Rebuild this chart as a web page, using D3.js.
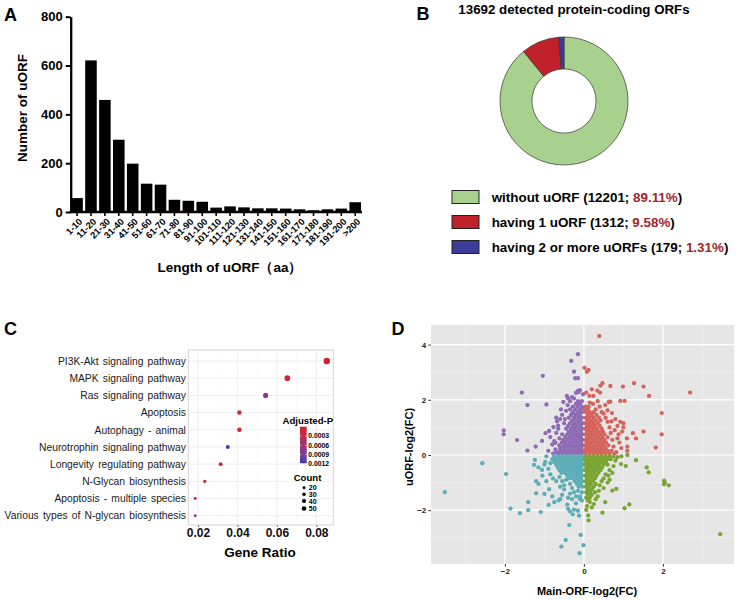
<!DOCTYPE html>
<html><head><meta charset="utf-8">
<script src="https://cdn.jsdelivr.net/npm/d3@7"></script>
<style>
body{margin:0;background:#fff;}
svg{display:block;font-family:"Liberation Sans",Arial,Helvetica,sans-serif;}
</style></head><body>
<svg id="fig" width="738" height="600"></svg>
<script>
// ---------- Panel A data ----------
const lengthBins = ["1-10","11-20","21-30","31-40","41-50","51-60","61-70","71-80","81-90","91-100","101-110","111-120","121-130","131-140","141-150","151-160","161-170","171-180","181-190","191-200",">200"];
const uorfCounts = [57,621,459,296,198,116,112,50,46,42,18,23,19,15,15,14,11,7,11,14,40];
const yTicksA = [0,200,400,600,800];

// ---------- Panel B data ----------
const orfGroups = ["without uORF","having 1 uORF","having 2 or more uORFs"];
const orfCounts = [12201,1312,179];
const orfPercents = ["89.11%","9.58%","1.31%"];
const orfColors = ["#a9d18e","#c0202a","#3a3d9a"];

// ---------- Panel C data ----------
const pathways = ["PI3K-Akt signaling pathway","MAPK signaling pathway","Ras signaling pathway","Apoptosis","Autophagy - animal","Neurotrophin signaling pathway","Longevity regulating pathway","N-Glycan biosynthesis","Apoptosis - multiple species","Various types of N-glycan biosynthesis"];
const geneRatio = [0.0853,0.0653,0.0543,0.0410,0.0410,0.0351,0.0315,0.0234,0.0186,0.0186];
const adjP = [0.00002,0.00008,0.00082,0.00008,0.00010,0.00118,0.00012,0.00010,0.00025,0.00072];
const geneCount = [52,40,33,25,25,21,19,14,11,11];
const ratioTicks = [0.02,0.04,0.06,0.08];
const pTicks = [0.0003,0.0006,0.0009,0.0012];
const countTicks = [20,30,40,50];

// ---------- Panel D data (Main-ORF log2FC, uORF log2FC) ----------
const purpleCoreRows = [
[0.05,[-0.05,-0.15,-0.25,-0.35,-0.45,-0.55,-0.65]],
[0.15,[-0.03,-0.1,-0.2,-0.3,-0.4,-0.5,-0.6]],
[0.25,[-0.06,-0.15,-0.25,-0.35,-0.45,-0.55]],
[0.35,[-0.03,-0.12,-0.2,-0.3,-0.4,-0.5,-0.62]],
[0.45,[-0.07,-0.16,-0.26,-0.36,-0.46,-0.56]],
[0.55,[-0.04,-0.12,-0.22,-0.31,-0.42,-0.52]],
[0.65,[-0.08,-0.17,-0.27,-0.37,-0.47]],
[0.75,[-0.04,-0.13,-0.22,-0.32,-0.42,-0.55]],
[0.85,[-0.08,-0.18,-0.28,-0.38]],
[0.95,[-0.04,-0.13,-0.23,-0.33,-0.45]],
[1.05,[-0.08,-0.18,-0.28,-0.4]],
[1.15,[-0.04,-0.14,-0.24,-0.35]],
[1.25,[-0.09,-0.19,-0.3]],
[1.35,[-0.05,-0.14,-0.25,-0.38]],
[1.45,[-0.1,-0.2,-0.32]],
[1.55,[-0.05,-0.15,-0.27]],
[1.65,[-0.1,-0.22,-0.35]],
[1.75,[-0.05,-0.16,-0.28]],
[1.85,[-0.1,-0.2]],
[1.95,[-0.05,-0.15]]
];
const purpleScatter = [[-0.72,0.2],[-0.75,0.5],[-0.7,0.8],[-0.68,1.22],[-0.7,1.35],[-0.6,1.3],[-0.55,1.45],[-0.5,1.15],[-0.65,1.06],[-0.77,1.01],[-0.85,0.65],[-0.88,0.87],[-0.97,0.79],[-1.06,0.51],[-1.22,0.3],[-1.43,0.16],[-1.69,0.54],[-2.03,0.89],[-2.03,0.75],[-0.72,0.44],[-0.62,0.6],[-0.8,0.38],[-0.9,0.15],[-0.78,0.05],[-0.52,1.92],[-0.41,1.81],[-0.45,1.6],[-0.4,2.05],[-0.43,2.14],[-0.95,1.83],[-1.43,1.81],[-1.57,2.26],[-1.04,2.87],[-0.15,2.32],[-0.1,2.35],[-0.13,2.28],[-0.2,2.25],[-0.22,2.78],[-0.15,2.78],[-0.25,3.02],[-0.32,3.41],[-0.15,3.65],[-0.3,2.1],[-0.35,1.95],[-0.25,2.05],[-0.58,1.65],[-0.48,1.3],[-0.65,0.95],[-0.6,0.25],[-0.7,0.1],[-0.3,1.5],[-0.02,1.7],[-0.02,2.2]];

const redCoreRows = [
[0.05,[0.05,0.15,0.25,0.35,0.45,0.55,0.65]],
[0.15,[0.02,0.1,0.2,0.3,0.4,0.5,0.6]],
[0.25,[0.06,0.15,0.25,0.35,0.45,0.55]],
[0.35,[0.03,0.12,0.2,0.3,0.4,0.5,0.62]],
[0.45,[0.07,0.16,0.26,0.36,0.46,0.56]],
[0.55,[0.04,0.12,0.22,0.31,0.42,0.52]],
[0.65,[0.08,0.17,0.27,0.37,0.47,0.6]],
[0.75,[0.04,0.13,0.22,0.32,0.42,0.52]],
[0.85,[0.08,0.18,0.28,0.38,0.48]],
[0.95,[0.04,0.13,0.23,0.33,0.45]],
[1.05,[0.08,0.18,0.28,0.4]],
[1.15,[0.04,0.14,0.24,0.35]],
[1.25,[0.09,0.19,0.3,0.42]],
[1.35,[0.05,0.14,0.25,0.38]],
[1.45,[0.1,0.2,0.32]],
[1.55,[0.05,0.15]],
[1.65,[0.03,0.1]],
[1.75,[0.05,0.12]]
];
const redScatter = [[0.7,0.15],[0.75,0.3],[0.72,0.55],[0.68,0.8],[0.78,0.9],[0.65,1.0],[0.6,1.2],[0.55,1.35],[0.5,1.5],[0.45,1.55],[0.7,1.22],[0.8,1.3],[0.92,1.2],[0.97,0.85],[0.85,0.6],[0.9,0.45],[0.82,0.1],[1.1,0.3],[1.1,0.15],[1.09,0.6],[1.24,0.79],[1.32,0.6],[1.51,0.85],[1.82,0.27],[1.97,0.75],[1.97,1.52],[1.0,1.15],[0.71,1.52],[0.54,1.81],[0.63,1.92],[0.67,1.93],[0.92,1.96],[1.03,1.96],[0.23,1.85],[0.2,2.38],[0.06,2.26],[0.14,2.14],[0.24,2.14],[0.34,2.33],[0.41,2.26],[0.42,2.51],[0.47,2.6],[0.67,2.5],[0.99,2.48],[1.27,2.6],[1.51,2.48],[1.65,2.14],[2.69,2.26],[0.016,3.16],[0.075,3.02],[0.117,3.08],[0.39,4.31],[0.3,1.65],[0.4,1.75],[0.35,1.95],[0.15,1.9],[0.25,1.55],[0.6,1.62],[0.85,1.05],[1.0,1.0],[0.88,0.75],[0.95,0.25],[0.77,0.05]];

const cyanCoreRows = [
[-0.05,[-0.05,-0.15,-0.25,-0.35,-0.45,-0.55,-0.65,-0.75]],
[-0.15,[-0.02,-0.1,-0.2,-0.3,-0.4,-0.5,-0.6,-0.7,-0.8]],
[-0.25,[-0.06,-0.15,-0.25,-0.35,-0.45,-0.55,-0.65,-0.75]],
[-0.35,[-0.03,-0.12,-0.2,-0.3,-0.4,-0.5,-0.6,-0.7]],
[-0.45,[-0.07,-0.16,-0.26,-0.36,-0.46,-0.56,-0.66]],
[-0.55,[-0.04,-0.12,-0.22,-0.31,-0.42,-0.52,-0.62]],
[-0.65,[-0.08,-0.17,-0.27,-0.37,-0.47,-0.57]],
[-0.75,[-0.04,-0.13,-0.22,-0.32,-0.42]],
[-0.85,[-0.08,-0.18,-0.28,-0.38]],
[-0.95,[-0.04,-0.13,-0.23]],
[-1.05,[-0.08,-0.18]],
[-1.15,[-0.04,-0.13]]
];
const cyanScatter = [[-0.85,-0.3],[-0.9,-0.5],[-0.85,-0.7],[-0.78,-0.85],[-0.7,-0.95],[-0.62,-0.8],[-0.55,-0.95],[-0.5,-1.1],[-0.45,-0.9],[-0.35,-1.05],[-0.3,-1.2],[-0.25,-1.35],[-0.15,-1.3],[-0.05,-1.35],[-0.1,-1.5],[-0.35,-1.4],[-0.5,-1.25],[-0.6,-1.15],[-0.95,-0.05],[-1.0,-0.35],[-1.15,-0.45],[-3.52,-1.35],[-2.57,-0.3],[-1.97,-0.69],[-1.86,-1.94],[-1.62,-2.11],[-1.41,-2.0],[-1.41,-1.71],[-1.09,-2.07],[-1.21,-0.95],[-1.15,-1.05],[-1.21,-1.39],[-1.26,-0.36],[-1.24,-0.18],[-1.05,-0.75],[-1.06,-0.54],[-1.0,-1.41],[-0.88,-1.24],[-0.89,-1.81],[-0.75,-1.71],[-0.64,-1.65],[-0.6,-1.6],[-0.37,-2.54],[-0.46,-3.08],[-0.57,-3.32],[-0.11,-3.56],[-0.08,-2.9],[-0.01,-3.27],[-0.4,-1.95],[-0.35,-2.05],[-0.25,-1.98],[-0.15,-2.02],[-0.12,-2.2],[-0.28,-2.15],[-0.42,-1.8],[-0.2,-1.75],[-0.05,-1.65],[-0.55,-1.45],[-0.8,-1.5],[-0.95,-0.95],[-0.98,-0.25],[-0.4,-1.55],[-0.3,-1.6],[-0.2,-1.5],[-0.1,-1.6]];

const greenCoreRows = [
[-0.05,[0.05,0.15,0.25,0.35,0.45,0.55,0.65,0.75]],
[-0.15,[0.02,0.1,0.2,0.3,0.4,0.5,0.6]],
[-0.25,[0.06,0.15,0.25,0.35,0.45,0.55]],
[-0.35,[0.03,0.12,0.2,0.3,0.4,0.5]],
[-0.45,[0.07,0.16,0.26,0.36,0.46]],
[-0.55,[0.04,0.12,0.22,0.31,0.42]],
[-0.65,[0.08,0.17,0.27,0.37]],
[-0.75,[0.04,0.13,0.22,0.32]],
[-0.85,[0.08,0.18,0.28]],
[-0.95,[0.04,0.13,0.23]],
[-1.05,[0.08,0.18,0.3]],
[-1.15,[0.05,0.14,0.25]],
[-1.25,[0.1,0.2]],
[-1.35,[0.06,0.15,0.28]],
[-1.45,[0.1,0.2]],
[-1.55,[0.06,0.15]],
[-1.65,[0.1]]
];
const greenScatter = [[0.6,-0.35],[0.65,-0.55],[0.55,-0.7],[0.5,-0.85],[0.45,-0.95],[0.4,-1.1],[0.38,-1.3],[0.35,-1.5],[0.3,-1.6],[0.72,-0.65],[0.75,-0.4],[0.8,-0.2],[0.85,-0.08],[0.95,-0.05],[1.1,0.0],[0.94,-0.33],[1.06,-0.4],[1.32,-0.19],[1.59,-0.45],[1.64,-0.63],[2.03,-0.93],[2.03,-1.06],[2.15,-1.1],[2.05,-1.0],[3.45,-2.87],[0.82,-1.23],[0.72,-1.29],[1.15,-1.79],[1.03,-1.93],[0.54,-1.71],[0.47,-2.09],[0.25,-1.78],[0.11,-2.19],[0.12,-2.37],[0.06,-1.99],[0.5,-1.2],[0.6,-1.0],[0.55,-0.25],[0.68,-0.15],[0.2,-1.9],[0.08,-1.85],[0.15,-1.7],[0.62,-0.75],[0.65,-0.9]];

const groupColors = {purple:"#8e6bb4", red:"#d4645b", cyan:"#5caeb6", green:"#7aa534"};

// ============================================================
const svg = d3.select("#fig");
const FONT = '"Liberation Sans",Arial,Helvetica,sans-serif';

function panelLetter(t, x, y){
  svg.append("text").attr("x",x).attr("y",y).attr("font-size",18).attr("font-weight","bold").text(t);
}
panelLetter("A",4,20.5);
panelLetter("B",416.5,19.5);
panelLetter("C",4,334.5);
panelLetter("D",391.5,335);

// ---------------- Panel A ----------------
(function(){
  const g = svg.append("g");
  const x = d3.scaleBand().domain(lengthBins).range([71.3,361]).paddingInner(0.17).paddingOuter(0);
  const y = d3.scaleLinear().domain([0,800]).range([212,16.7]);
  g.selectAll("rect").data(uorfCounts).join("rect")
    .attr("x",(d,i)=>x(lengthBins[i])).attr("y",d=>y(d))
    .attr("width",x.bandwidth()).attr("height",d=>y(0)-y(d)).attr("fill","#000");
  const ya = g.append("g").attr("transform","translate(70.7,0)")
    .call(d3.axisLeft(y).tickValues(yTicksA).tickSize(5).tickSizeOuter(0).tickPadding(3));
  ya.select(".domain").attr("stroke-width",2.3);
  ya.selectAll(".tick line").attr("stroke-width",2);
  ya.selectAll("text").attr("font-size",13).attr("font-weight","bold").attr("font-family",FONT).attr("fill","#000");
  const xa = g.append("g").attr("transform","translate(0,212)")
    .call(d3.axisBottom(x).tickSize(4).tickSizeOuter(0));
  xa.select(".domain").remove();
  xa.selectAll(".tick line").attr("stroke-width",1.6);
  xa.selectAll("text").attr("font-size",9.3).attr("font-weight","bold").attr("font-family",FONT).attr("fill","#000")
    .attr("text-anchor","end").attr("x",0).attr("y",0).attr("dy","0.35em")
    .attr("transform","translate(3.5,8) rotate(-45)");
  g.append("line").attr("x1",69.6).attr("x2",362).attr("y1",212).attr("y2",212).attr("stroke","#000").attr("stroke-width",2.3);
  g.append("text").attr("transform","translate(27,108) rotate(-90)").attr("text-anchor","middle")
    .attr("font-size",13.5).attr("font-weight","bold").text("Number of uORF");
  g.append("text").attr("x",230).attr("y",272).attr("text-anchor","middle")
    .attr("font-size",13.5).attr("font-weight","bold").text("Length of uORF（aa）");
})();

// ---------------- Panel B ----------------
(function(){
  const g = svg.append("g");
  g.append("text").attr("x",574).attr("y",13.5).attr("text-anchor","middle")
    .attr("font-size",13.3).attr("font-weight","bold").text("13692 detected protein-coding ORFs");
  const pie = d3.pie().sort(null)(orfCounts);
  const arc = d3.arc().innerRadius(32).outerRadius(64);
  g.append("g").attr("transform","translate(564,101)")
    .selectAll("path").data(pie).join("path").attr("d",arc)
    .attr("fill",(d,i)=>orfColors[i]).attr("stroke","#333").attr("stroke-width",0.7);
  const rowY = [197,222,247];
  orfGroups.forEach((name,i)=>{
    g.append("rect").attr("x",452).attr("y",rowY[i]-6.5).attr("width",27).attr("height",13)
      .attr("fill",orfColors[i]).attr("stroke","#222").attr("stroke-width",1);
    const t = g.append("text").attr("x",491.7).attr("y",rowY[i]+4.8).attr("font-size",13.4).attr("font-weight","bold");
    t.append("tspan").text(name+" ("+orfCounts[i]+"; ");
    t.append("tspan").attr("fill","#a3252b").text(orfPercents[i]);
    t.append("tspan").text(")");
  });
})();

// ---------------- Panel C ----------------
(function(){
  const g = svg.append("g");
  const L=188.3, R=333.3, T=350, B=525;
  const x = d3.scaleLinear().domain([0.02,0.08]).range([198,316.3]);
  const y = d3.scalePoint().domain(pathways).range([361,515.7]);
  g.append("rect").attr("x",L).attr("y",T).attr("width",R-L).attr("height",B-T).attr("fill","#fff");
  [0.03,0.05,0.07].forEach(v=>g.append("line").attr("x1",x(v)).attr("x2",x(v)).attr("y1",T).attr("y2",B).attr("stroke","#f5f5f5").attr("stroke-width",0.5));
  ratioTicks.forEach(v=>g.append("line").attr("x1",x(v)).attr("x2",x(v)).attr("y1",T).attr("y2",B).attr("stroke","#ebebeb").attr("stroke-width",0.8));
  pathways.forEach(p=>g.append("line").attr("x1",L).attr("x2",R).attr("y1",y(p)).attr("y2",y(p)).attr("stroke","#ebebeb").attr("stroke-width",0.8));
  g.append("rect").attr("x",L).attr("y",T).attr("width",R-L).attr("height",B-T).attr("fill","none").attr("stroke","#cfcfcf").attr("stroke-width",0.9);

  const pY = d3.scaleLinear().domain([0.0003,0.0012]).range([436,463.7]);
  const pMin = pY.invert(426.7), pMax = pY.invert(463.3);
  const col = d3.scaleLinear().domain([pMin,pMax]).range(["#d81f2a","#3b3fb3"]).interpolate(d3.interpolateLab).clamp(true);
  const size = d3.scaleSqrt().domain([0,55]).range([0,3.3]);

  g.selectAll("circle.pt").data(pathways).join("circle").attr("class","pt")
    .attr("cx",(d,i)=>x(geneRatio[i])).attr("cy",d=>y(d))
    .attr("r",(d,i)=>size(geneCount[i])).attr("fill",(d,i)=>col(adjP[i]));

  const xa = g.append("g").attr("transform",`translate(0,${B})`)
    .call(d3.axisBottom(x).tickValues(ratioTicks).tickFormat(d3.format(".2f")).tickSize(2).tickSizeOuter(0));
  xa.select(".domain").remove();
  xa.selectAll(".tick line").attr("stroke","#777");
  xa.selectAll("text").attr("font-size",12).attr("font-weight","bold").attr("font-family",FONT).attr("fill","#111")
    .attr("y",11.8).attr("dy",0);
  const ya = g.append("g").attr("transform",`translate(${L},0)`)
    .call(d3.axisLeft(y).tickSize(0).tickPadding(2.4));
  ya.select(".domain").remove();
  ya.selectAll("text").attr("font-size",10.3).attr("font-family",FONT).attr("fill","#1a1a1a").attr("word-spacing","1.3px");

  g.append("text").attr("x",260).attr("y",557).attr("text-anchor","middle").attr("font-size",13.5).attr("font-weight","bold").text("Gene Ratio");

  // colour legend
  const defs = svg.append("defs");
  const grad = defs.append("linearGradient").attr("id","pgrad").attr("x1",0).attr("x2",0).attr("y1",0).attr("y2",1);
  d3.range(0,11).forEach(i=>grad.append("stop").attr("offset",i/10).attr("stop-color",col(pMin+(pMax-pMin)*i/10)));
  g.append("text").attr("x",282.5).attr("y",423.5).attr("font-size",9.6).attr("font-weight","bold").text("Adjusted-P");
  g.append("rect").attr("x",300).attr("y",426.7).attr("width",6.7).attr("height",36.6).attr("fill","url(#pgrad)");
  pTicks.forEach(v=>{
    g.append("line").attr("x1",300).attr("x2",301.5).attr("y1",pY(v)).attr("y2",pY(v)).attr("stroke","#fff").attr("stroke-width",0.6);
    g.append("line").attr("x1",305.2).attr("x2",306.7).attr("y1",pY(v)).attr("y2",pY(v)).attr("stroke","#fff").attr("stroke-width",0.6);
    g.append("text").attr("x",308.3).attr("y",pY(v)+2.4).attr("font-size",6.8).attr("font-weight","bold").text(d3.format(".4f")(v));
  });
  // size legend
  g.append("text").attr("x",307.5).attr("y",481).attr("text-anchor","middle").attr("font-size",9.6).attr("font-weight","bold").text("Count");
  const cY = [487.8,494.3,501,508.5];
  countTicks.forEach((c,i)=>{
    g.append("circle").attr("cx",304).attr("cy",cY[i]).attr("r",size(c)*0.75).attr("fill","#000");
    g.append("text").attr("x",308.8).attr("y",cY[i]+2.5).attr("font-size",7).attr("font-weight","bold").text(c);
  });
})();

// ---------------- Panel D ----------------
(function(){
  const g = svg.append("g");
  const L=431, R=734, T=325, B=564;
  const x = d3.scaleLinear().domain([-3.87,3.80]).range([L,R]);
  const y = d3.scaleLinear().domain([-3.95,4.71]).range([B,T]);
  g.append("rect").attr("x",L).attr("y",T).attr("width",R-L).attr("height",B-T).attr("fill","#e6e6e6");
  [-3,-1,1,3].forEach(v=>{
    g.append("line").attr("x1",x(v)).attr("x2",x(v)).attr("y1",T).attr("y2",B).attr("stroke","#f4f4f4").attr("stroke-width",0.6);
    g.append("line").attr("x1",L).attr("x2",R).attr("y1",y(v)).attr("y2",y(v)).attr("stroke","#f4f4f4").attr("stroke-width",0.6);
  });
  [-2,0,2].forEach(v=>g.append("line").attr("x1",x(v)).attr("x2",x(v)).attr("y1",T).attr("y2",B).attr("stroke","#fff").attr("stroke-width",1.2));
  [-2,0,2,4].forEach(v=>g.append("line").attr("x1",L).attr("x2",R).attr("y1",y(v)).attr("y2",y(v)).attr("stroke","#fff").attr("stroke-width",1.2));

  function rows(r){ const out=[]; r.forEach(([yy,xs])=>xs.forEach(xx=>out.push([xx,yy]))); return out; }
  const groups = [
    {pts: rows(purpleCoreRows).concat(purpleScatter), c: groupColors.purple},
    {pts: rows(redCoreRows).concat(redScatter), c: groupColors.red},
    {pts: rows(cyanCoreRows).concat(cyanScatter), c: groupColors.cyan},
    {pts: rows(greenCoreRows).concat(greenScatter), c: groupColors.green}
  ];
  groups.forEach(gr=>{
    g.append("g").selectAll("circle").data(gr.pts).join("circle")
      .attr("cx",d=>x(d[0])).attr("cy",d=>y(d[1])).attr("r",2.15).attr("fill",gr.c);
  });

  const ya = g.append("g").attr("transform",`translate(${L},0)`)
    .call(d3.axisLeft(y).tickValues([-2,0,2,4]).tickSize(2.7).tickPadding(2).tickSizeOuter(0));
  ya.select(".domain").remove();
  ya.selectAll(".tick line").attr("stroke","#333");
  ya.selectAll("text").attr("font-size",8).attr("font-weight","bold").attr("font-family",FONT).attr("fill","#222");
  const xa = g.append("g").attr("transform",`translate(0,${B})`)
    .call(d3.axisBottom(x).tickValues([-2,0,2]).tickSize(2.7).tickPadding(2).tickSizeOuter(0));
  xa.select(".domain").remove();
  xa.selectAll(".tick line").attr("stroke","#333");
  xa.selectAll("text").attr("font-size",8).attr("font-weight","bold").attr("font-family",FONT).attr("fill","#222");

  g.append("text").attr("transform","translate(413,447) rotate(-90)").attr("text-anchor","middle")
    .attr("font-size",11).attr("font-weight","bold").text("uORF-log2(FC)");
  g.append("text").attr("x",587).attr("y",595).attr("text-anchor","middle")
    .attr("font-size",11).attr("font-weight","bold").text("Main-ORF-log2(FC)");
})();
</script></body></html>
